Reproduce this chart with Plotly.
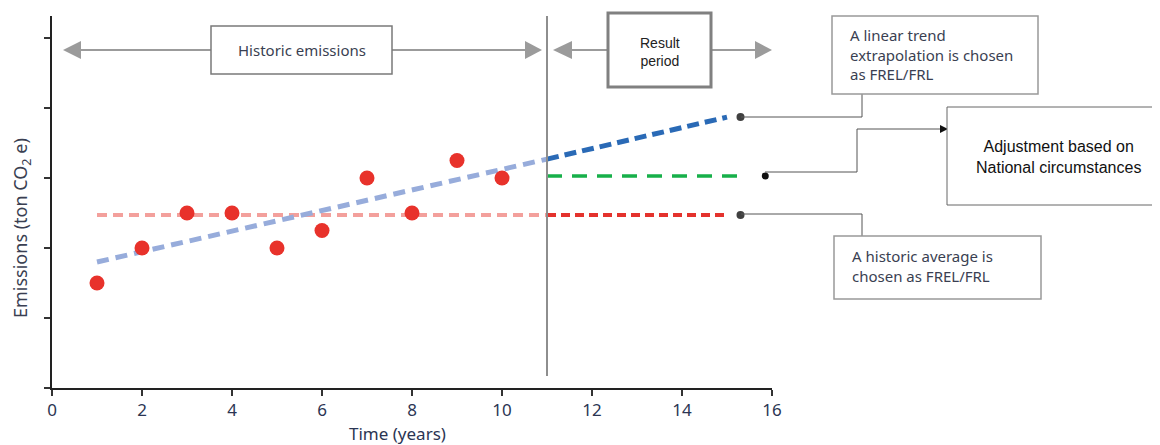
import plotly.graph_objects as go

# ---------------- data ----------------
years = [1, 2, 3, 4, 5, 6, 7, 8, 9, 10]
emissions = [1.5, 2.0, 2.5, 2.5, 2.0, 2.25, 3.0, 2.5, 3.25, 3.0]

avg_hist_x = [1, 11]
avg_hist_y = [2.47, 2.47]
avg_proj_x = [11, 15.0]
avg_proj_y = [2.47, 2.47]

trend_hist_x = [1, 11]
trend_hist_y = [1.8, 3.27]
trend_proj_x = [11, 15.0]
trend_proj_y = [3.27, 3.87]

adj_x = [11, 15.35]
adj_y = [3.03, 3.03]

end_dots_x = [15.3, 15.3]
end_dots_y = [3.87, 2.47]
adj_dot_x = [15.85]
adj_dot_y = [3.03]

x_ticks = [0, 2, 4, 6, 8, 10, 12, 14, 16]
y_ticks = [0, 1, 2, 3, 4, 5]

# ---------------- geometry helpers (page pixel -> paper) ----------------
OFF = 8  # page body margin
W, H = 1160 - OFF, 445 - OFF
PX0, PX1 = 52, 772
PY0, PY1 = 388, 16


def fx(x):
    return (x - PX0) / (PX1 - PX0)


def fy(y):
    return (PY0 - y) / (PY0 - PY1)


fig = go.Figure()

line_font = "Noto Sans"

fig.add_trace(go.Scatter(x=avg_hist_x, y=avg_hist_y, mode="lines",
                         line=dict(color="#f3a09c", width=4, dash="10px,6px"),
                         hoverinfo="skip"))
fig.add_trace(go.Scatter(x=trend_hist_x, y=trend_hist_y, mode="lines",
                         line=dict(color="#97acdb", width=5, dash="12px,7px"),
                         hoverinfo="skip"))
fig.add_trace(go.Scatter(x=trend_proj_x, y=trend_proj_y, mode="lines",
                         line=dict(color="#2a6ab6", width=5, dash="12px,6px"),
                         hoverinfo="skip"))
fig.add_trace(go.Scatter(x=avg_proj_x, y=avg_proj_y, mode="lines",
                         line=dict(color="#e4322d", width=4, dash="9px,5px"),
                         hoverinfo="skip"))
fig.add_trace(go.Scatter(x=adj_x, y=adj_y, mode="lines",
                         line=dict(color="#17b04a", width=3.5, dash="15px,10px"),
                         hoverinfo="skip"))
fig.add_trace(go.Scatter(x=years, y=emissions, mode="markers",
                         marker=dict(color="#e8322b", size=15),
                         hoverinfo="skip"))
fig.add_trace(go.Scatter(x=end_dots_x, y=end_dots_y, mode="markers",
                         marker=dict(color="#404040", size=8),
                         hoverinfo="skip"))
fig.add_trace(go.Scatter(x=adj_dot_x, y=adj_dot_y, mode="markers",
                         marker=dict(color="#111111", size=7),
                         hoverinfo="skip"))

shapes = []
# vertical separator at year 11
shapes.append(dict(type="line", xref="x", yref="paper", x0=11, x1=11,
                   y0=fy(376), y1=1, line=dict(color="#8e8e8e", width=2)))

GRAY = "#9b9b9b"


def hline(x0, x1, y, color=GRAY, width=2):
    shapes.append(dict(type="line", xref="paper", yref="paper",
                       x0=fx(x0), x1=fx(x1), y0=fy(y), y1=fy(y),
                       line=dict(color=color, width=width)))


def vline(x, y0, y1, color="#555", width=1):
    shapes.append(dict(type="line", xref="paper", yref="paper",
                       x0=fx(x), x1=fx(x), y0=fy(y0), y1=fy(y1),
                       line=dict(color=color, width=width)))


def tri(tip, back, y, half, color=GRAY):
    path = "M {} {} L {} {} L {} {} Z".format(
        fx(tip), fy(y), fx(back), fy(y - half), fx(back), fy(y + half))
    shapes.append(dict(type="path", xref="paper", yref="paper", path=path,
                       fillcolor=color, line=dict(color=color, width=0)))


def rect(x0, y0, x1, y1, color="#808080", width=1.5):
    shapes.append(dict(type="rect", xref="paper", yref="paper",
                       x0=fx(x0), x1=fx(x1), y0=fy(y1), y1=fy(y0),
                       fillcolor="white", line=dict(color=color, width=width)))


# Historic emissions arrow
hline(78, 211, 50)
hline(392, 528, 50)
tri(63, 81, 50, 9)
tri(542, 525, 50, 9)
rect(211, 26, 392, 74, color="#7a7a7a", width=1.5)

# Result period arrow
hline(569, 608, 50)
hline(711, 758, 50)
tri(553, 572, 50, 9)
tri(772, 755, 50, 9)
rect(608, 13, 711, 87, color="#808080", width=3)

# linear trend connector
hline(741, 862, 117, color="#555", width=1)
vline(862, 117, 94)
rect(832, 16, 1038, 94, color="#999999", width=1.5)

# adjustment connector
hline(765, 857, 172, color="#555", width=1)
vline(857, 172, 129)
hline(857, 942, 129, color="#555", width=1)
tri(948, 940, 129, 4, color="#111")
rect(947, 107, 1163, 205, color="#666666", width=1)

# historic average connector
hline(741, 862, 214, color="#555", width=1)
vline(862, 214, 236)
rect(834, 236, 1041, 299, color="#999999", width=1.5)

annotations = []


def text(x, y, s, size=14, color="#3a3f52", family=line_font, align="center",
         xanchor="center", angle=0):
    annotations.append(dict(xref="paper", yref="paper", x=fx(x), y=fy(y),
                            text=s, showarrow=False, align=align,
                            xanchor=xanchor, yanchor="middle", textangle=angle,
                            font=dict(size=size, color=color, family=family)))


text(302, 50, "Historic emissions", size=15)
text(660, 52, "Result<br>period", size=14, color="#222", family="Liberation Sans")
text(848, 54, "A linear trend<br>extrapolation is chosen<br>as FREL/FRL", size=15,
     align="left", xanchor="left")
text(1058, 157, "Adjustment based on<br>National circumstances", size=16,
     color="#111", family="Liberation Sans")
text(850, 266, "A historic average is<br>chosen as FREL/FRL", size=15,
     align="left", xanchor="left")
text(22, 228, "Emissions (ton CO<sub>2</sub> e)", size=18, color="#3a3f52", angle=-90)
text(397, 433, "Time (years)", size=17, color="#2b3553")

fig.update_layout(
    width=W, height=H,
    margin=dict(l=PX0 - OFF, r=(W + OFF) - PX1, t=PY1 - OFF, b=(H + OFF) - PY0, pad=0),
    paper_bgcolor="white", plot_bgcolor="white",
    showlegend=False,
    shapes=shapes, annotations=annotations,
    xaxis=dict(range=[0, 16], tickvals=x_ticks, ticks="outside", ticklen=6,
               tickwidth=1.5, tickcolor="#333", showline=True, linecolor="#222",
               linewidth=2, showgrid=False, zeroline=False,
               tickfont=dict(size=17, color="#2b3553", family=line_font)),
    yaxis=dict(range=[0, (PY0 - PY1) / 70], tickvals=y_ticks, ticks="outside",
               ticklen=6, tickwidth=1.5, tickcolor="#333", showline=True,
               linecolor="#222", linewidth=2, showgrid=False, zeroline=False,
               showticklabels=False),
)

fig.write_html("out.html")
